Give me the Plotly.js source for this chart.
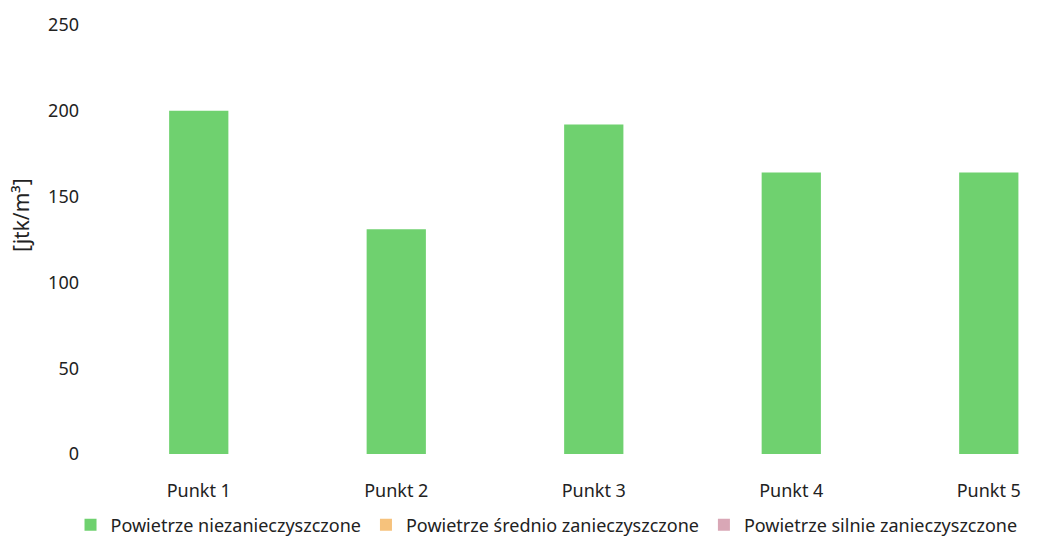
<!DOCTYPE html>
<html>
<head>
<meta charset="utf-8">
<script src="https://cdn.plot.ly/plotly-3.0.1.min.js"></script>
<style>html,body{margin:0;padding:0;background:#fff;}#chart{width:1051px;height:544px;}</style>
</head>
<body>
<div id="chart"></div>
<script>
const categories = ["Punkt 1", "Punkt 2", "Punkt 3", "Punkt 4", "Punkt 5"];
const seriesNames = ["Powietrze niezanieczyszczone", "Powietrze średnio zanieczyszczone", "Powietrze silnie zanieczyszczone"];
const clean = [200, 131, 192, 164, 164];
const medium = [null, null, null, null, null];
const heavy = [null, null, null, null, null];
const colors = ["#6fd16f", "#f6c27c", "#d9a7b6"];
const yTitle = "[jtk/m³]";

const font = "Noto Sans, Open Sans, sans-serif";
const traces = [clean, medium, heavy].map((vals, i) => ({
  type: "bar",
  x: categories,
  y: vals,
  name: seriesNames[i],
  marker: {color: colors[i]},
  width: 0.3
}));

const layout = {
  width: 1051, height: 544,
  margin: {l: 100, r: 0, t: 25, b: 90},
  paper_bgcolor: "#fff", plot_bgcolor: "#fff",
  barmode: "overlay",
  showlegend: true,
  legend: {orientation: "h", xref: "container", yref: "container", x: 0.52, xanchor: "center",
           y: 0.035, yanchor: "middle",
           font: {family: font, size: 18, color: "#222"}, itemwidth: 30, tracegroupgap: 0},
  xaxis: {range: [-0.5, 4.315], showgrid: false, zeroline: false, showline: false, automargin: false,
          ticks: "", ticklabelstandoff: 24, tickfont: {family: font, size: 18, color: "#222"}},
  yaxis: {range: [0, 250], dtick: 50, tick0: 0, showgrid: false, zeroline: false, showline: false, automargin: false,
          ticks: "", ticklabelstandoff: 20, tickfont: {family: font, size: 18, color: "#222"}},
  annotations: [{text: yTitle, xref: "paper", yref: "paper", x: -0.083, y: 0.557,
                 xanchor: "center", yanchor: "middle", textangle: -90, showarrow: false,
                 font: {family: font, size: 21, color: "#222"}}],
  font: {family: font}
};

Plotly.newPlot("chart", traces, layout, {displayModeBar: false, staticPlot: true});
</script>
</body>
</html>
